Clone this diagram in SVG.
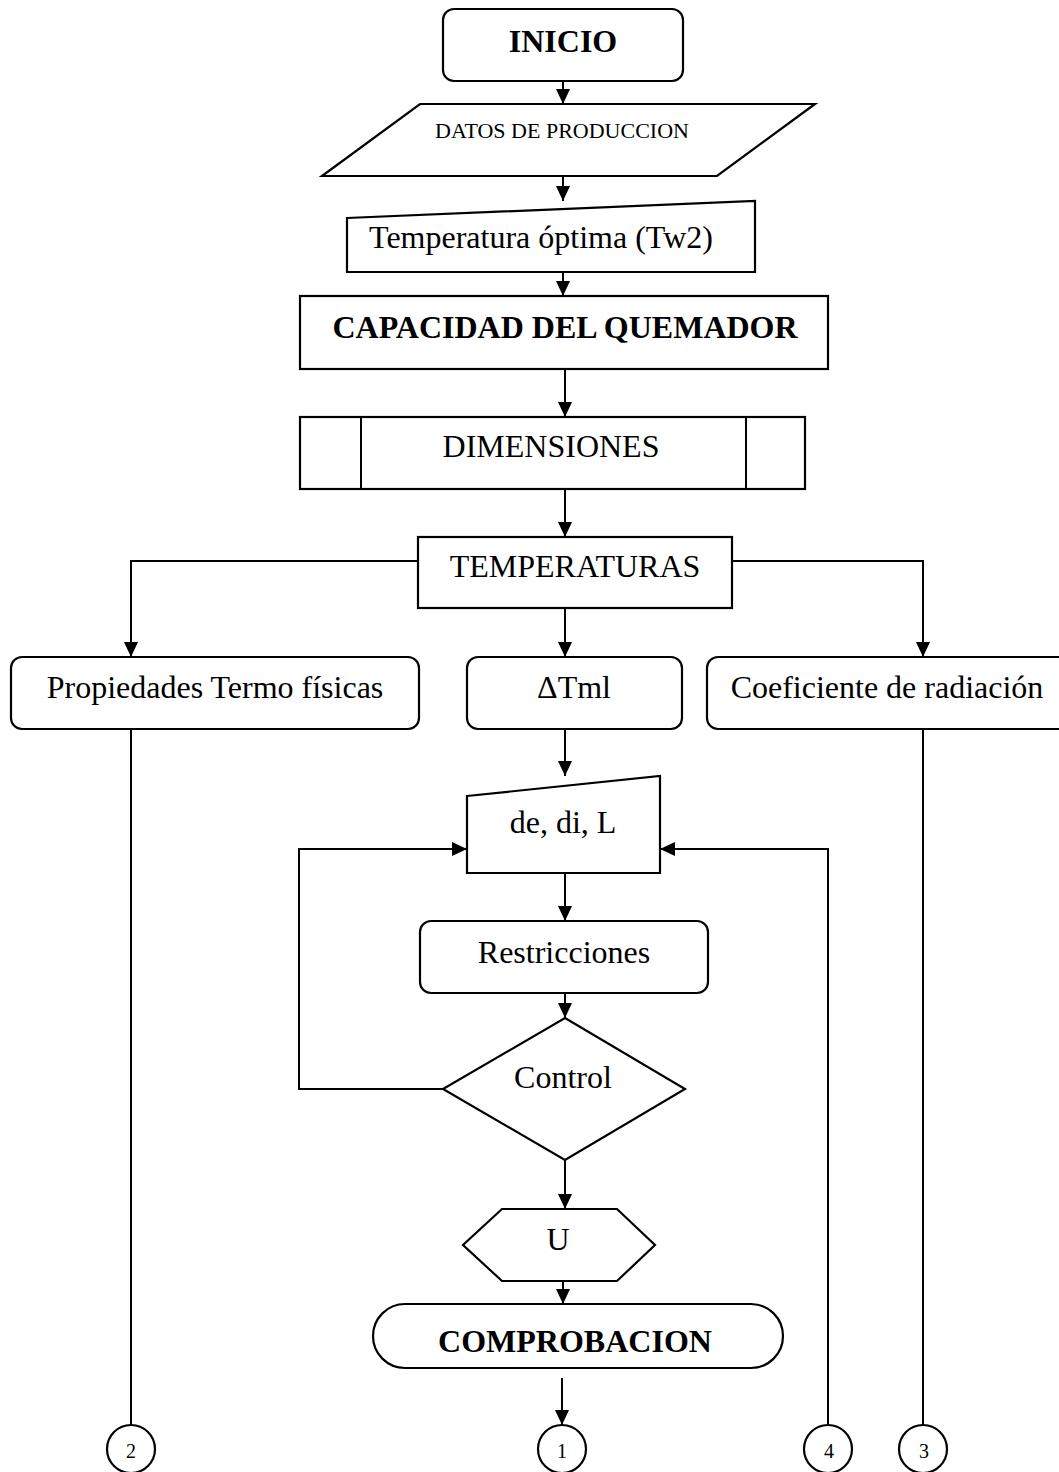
<svg xmlns="http://www.w3.org/2000/svg" width="1059" height="1472" viewBox="0 0 1059 1472">
  <style>
    .shape { fill: #ffffff; stroke: #000000; stroke-width: 2.2; }
    .line { fill: none; stroke: #000000; stroke-width: 2; }
    .txt { font-family: "Liberation Serif", "Times New Roman", serif; font-size: 32px; fill: #000000; text-anchor: middle; }
    .bold { font-weight: bold; }
    .small { font-size: 22px; }
    .num { font-size: 20px; }
  </style>
  <defs>
    <marker id="arrow" markerWidth="16" markerHeight="14" refX="15" refY="7" orient="auto" markerUnits="userSpaceOnUse">
      <path d="M0,0 L15,7 L0,14 Z" fill="#000000"/>
    </marker>
  </defs>

  <!-- connectors -->
  <g id="connectors">
    <line class="line" x1="563" y1="81" x2="563" y2="104" marker-end="url(#arrow)"/>
    <line class="line" x1="563" y1="176" x2="563" y2="201" marker-end="url(#arrow)"/>
    <line class="line" x1="563" y1="272" x2="563" y2="296" marker-end="url(#arrow)"/>
    <line class="line" x1="565" y1="369" x2="565" y2="417" marker-end="url(#arrow)"/>
    <line class="line" x1="565" y1="489" x2="565" y2="537" marker-end="url(#arrow)"/>
    <line class="line" x1="565" y1="608" x2="565" y2="657" marker-end="url(#arrow)"/>
    <polyline class="line" points="418,561 131,561 131,657" marker-end="url(#arrow)"/>
    <polyline class="line" points="732,561 923,561 923,657" marker-end="url(#arrow)"/>
    <line class="line" x1="565" y1="729" x2="565" y2="776" marker-end="url(#arrow)"/>
    <line class="line" x1="565" y1="873" x2="565" y2="921" marker-end="url(#arrow)"/>
    <line class="line" x1="565" y1="993" x2="565" y2="1018" marker-end="url(#arrow)"/>
    <line class="line" x1="565" y1="1160" x2="565" y2="1209" marker-end="url(#arrow)"/>
    <line class="line" x1="563" y1="1281" x2="563" y2="1304" marker-end="url(#arrow)"/>
    <line class="line" x1="562" y1="1378" x2="562" y2="1425" marker-end="url(#arrow)"/>
    <!-- loop back from Control -->
    <polyline class="line" points="443,1089 299,1089 299,849 467,849" marker-end="url(#arrow)"/>
    <!-- return from connector 4 -->
    <polyline class="line" points="828,1425 828,849 660,849" marker-end="url(#arrow)"/>
    <!-- off-page links -->
    <line class="line" x1="131" y1="729" x2="131" y2="1425"/>
    <line class="line" x1="923" y1="729" x2="923" y2="1425"/>
  </g>

  <g id="inicio">
    <rect class="shape" x="443" y="9" width="240" height="72" rx="11"/>
    <text class="txt bold" x="563" y="52">INICIO</text>
  </g>

  <g id="datos-produccion">
    <polygon class="shape" points="420,104 815,104 717,176 322,176"/>
    <text class="txt small" x="562" y="138">DATOS DE PRODUCCION</text>
  </g>

  <g id="temperatura-optima">
    <polygon class="shape" points="347,218 755,201 755,272 347,272"/>
    <text class="txt" x="541" y="248">Temperatura óptima (Tw2)</text>
  </g>

  <g id="capacidad">
    <rect class="shape" x="300" y="296" width="528" height="73"/>
    <text class="txt bold" x="565" y="338">CAPACIDAD DEL QUEMADOR</text>
  </g>

  <g id="dimensiones">
    <rect class="shape" x="300" y="417" width="505" height="72"/>
    <line class="line" x1="361" y1="417" x2="361" y2="489"/>
    <line class="line" x1="746" y1="417" x2="746" y2="489"/>
    <text class="txt" x="551" y="457">DIMENSIONES</text>
  </g>

  <g id="temperaturas">
    <rect class="shape" x="418" y="537" width="314" height="71"/>
    <text class="txt" x="575" y="577">TEMPERATURAS</text>
  </g>

  <g id="propiedades">
    <rect class="shape" x="11" y="657" width="408" height="72" rx="11"/>
    <text class="txt" x="215" y="698">Propiedades Termo físicas</text>
  </g>

  <g id="delta-tml">
    <rect class="shape" x="467" y="657" width="215" height="72" rx="11"/>
    <text class="txt" x="574" y="698">ΔTml</text>
  </g>

  <g id="coeficiente">
    <rect class="shape" x="707" y="657" width="370" height="72" rx="11"/>
    <text class="txt" x="887" y="698">Coeficiente de radiación</text>
  </g>

  <g id="de-di-l">
    <polygon class="shape" points="467,796 660,776 660,873 467,873"/>
    <text class="txt" x="563" y="833">de, di, L</text>
  </g>

  <g id="restricciones">
    <rect class="shape" x="420" y="921" width="288" height="72" rx="11"/>
    <text class="txt" x="564" y="963">Restricciones</text>
  </g>

  <g id="control">
    <polygon class="shape" points="565,1018 685,1089 565,1160 443,1089"/>
    <text class="txt" x="563" y="1088">Control</text>
  </g>

  <g id="u">
    <polygon class="shape" points="502,1209 617,1209 655,1245 617,1281 502,1281 463,1245"/>
    <text class="txt" x="558" y="1250">U</text>
  </g>

  <g id="comprobacion">
    <rect class="shape" x="373" y="1304" width="410" height="64" rx="32"/>
    <text class="txt bold" x="575" y="1352">COMPROBACION</text>
  </g>

  <g id="conector-2">
    <circle class="shape" cx="131" cy="1449" r="24"/>
    <text class="txt num" x="131" y="1458">2</text>
  </g>
  <g id="conector-1">
    <circle class="shape" cx="562" cy="1449" r="24"/>
    <text class="txt num" x="562" y="1458">1</text>
  </g>
  <g id="conector-4">
    <circle class="shape" cx="828" cy="1449" r="24"/>
    <text class="txt num" x="829" y="1458">4</text>
  </g>
  <g id="conector-3">
    <circle class="shape" cx="923" cy="1449" r="24"/>
    <text class="txt num" x="924" y="1458">3</text>
  </g>
</svg>
